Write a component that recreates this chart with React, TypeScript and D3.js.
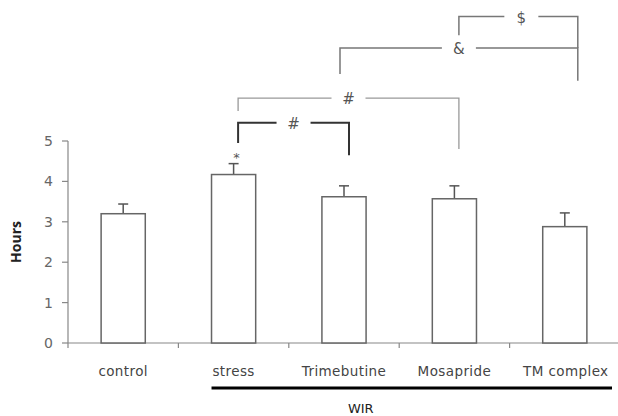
import React from "react";
import * as d3 from "d3";

const categories = ["control", "stress", "Trimebutine", "Mosapride", "TM complex"];
const means = [3.2, 4.17, 3.62, 3.57, 2.88];
const errors = [0.24, 0.27, 0.27, 0.32, 0.34];
const yTicks = [0, 1, 2, 3, 4, 5];
const starLabels = ["", "*", "", "", ""];
// brackets: from/to category index, top level, left & right drop ends (data units)
const bracketFrom = [1, 1, 2, 3];
const bracketTo = [2, 3, 4, 4];
const bracketTop = [5.45, 6.06, 7.3, 8.08];
const bracketLeftEnd = [4.95, 5.74, 6.66, 7.62];
const bracketRightEnd = [4.65, 4.8, 6.49, 7.3];
const bracketLabels = ["#", "#", "&", "$"];
const groupLabel = "WIR";

const W = 618, H = 416;
const margin = { left: 68, right: -2, top: 0, bottom: 73 };

export default function App() {
  const x = d3.scaleBand<string>().domain(categories)
    .range([margin.left, W - margin.right]).paddingInner(0.6).paddingOuter(0.3);
  const y = d3.scaleLinear().domain([0, 5]).range([343, 141]);
  const step = x.step();
  const x0 = margin.left;
  const x1 = margin.left + step * categories.length;
  const cx = (i: number) => (x(categories[i]) as number) + x.bandwidth() / 2;
  const offL = [0, 4.5, -4, 4.5, 13];
  const offR = [0, 4.5, 5, 4.5, 13];
  const font = "'DejaVu Sans', 'Open Sans', sans-serif";
  const bracketStroke = ["#333", "#999", "#777", "#777"];
  const bracketWidth = [2, 1.3, 1.5, 1.5];

  return (
    <svg width={W} height={H} style={{ position: "absolute", left: 0, top: 0, background: "#fff" }}
      fontFamily={font}>
      {/* y axis */}
      <line x1={x0} x2={x0} y1={y(0)} y2={y(5)} stroke="#888" strokeWidth={1.2} />
      {yTicks.map(t => (
        <g key={t}>
          <line x1={x0 - 6} x2={x0} y1={y(t)} y2={y(t)} stroke="#888" strokeWidth={1.2} />
          <text x={53} y={y(t)} dy="0.35em" textAnchor="end" fontSize={14} fill="#666">{t}</text>
        </g>
      ))}
      <text transform={`translate(21,${(y(0) + y(5)) / 2}) rotate(-90)`} textAnchor="middle"
        fontSize={14} fontWeight="bold" fill="#222" fontFamily="'Open Sans', sans-serif">Hours</text>
      {/* x axis */}
      <line x1={x0} x2={x1} y1={y(0)} y2={y(0)} stroke="#888" strokeWidth={1.2} />
      {d3.range(categories.length + 1).map(i => (
        <line key={i} x1={x0 + i * step} x2={x0 + i * step} y1={y(0)} y2={y(0) + 5} stroke="#888" strokeWidth={1.2} />
      ))}
      {/* bars */}
      {categories.map((c, i) => (
        <g key={c}>
          <line x1={cx(i)} x2={cx(i)} y1={y(means[i])} y2={y(means[i] + errors[i])} stroke="#555" strokeWidth={1.5} />
          <line x1={cx(i) - 5} x2={cx(i) + 5} y1={y(means[i] + errors[i])} y2={y(means[i] + errors[i])} stroke="#555" strokeWidth={1.5} />
          <rect x={x(c)} y={y(means[i])} width={x.bandwidth()} height={y(0) - y(means[i])}
            fill="#fff" stroke="#666" strokeWidth={1.5} />
          <text x={cx(i) + (i === 4 ? 1 : 0)} y={371} dy="0.35em" textAnchor="middle" fontSize={13.5} letterSpacing={0.4} fill="#444">{c}</text>
          {starLabels[i] && (
            <text x={cx(i) + 3} y={y(means[i] + errors[i]) - 2} textAnchor="middle" fontSize={13} fill="#555">{starLabels[i]}</text>
          )}
        </g>
      ))}
      {/* WIR group line */}
      <line x1={x(categories[1]) as number} x2={x1 - 8} y1={388} y2={388} stroke="#000" strokeWidth={3} />
      <text x={(x(categories[1]) as number + x1) / 2 - 55} y={408} dy="0.35em" textAnchor="middle" fontSize={13} fill="#222">{groupLabel}</text>
      {/* brackets */}
      {bracketLabels.map((lab, k) => {
        const xl = cx(bracketFrom[k]) + (k === 2 ? offL[bracketFrom[k]] : offR[bracketFrom[k]]);
        const xr = cx(bracketTo[k]) + offR[bracketTo[k]];
        const yt = y(bracketTop[k]);
        const mid = (xl + xr) / 2 + (k === 3 ? 3 : 0);
        const gap = 17;
        return (
          <g key={k} stroke={bracketStroke[k]} strokeWidth={bracketWidth[k]} fill="none">
            <path d={`M${xl},${y(bracketLeftEnd[k])}V${yt}H${mid - gap}`} />
            <path d={`M${mid + gap},${yt}H${xr}V${y(bracketRightEnd[k])}`} />
            <text x={mid} y={yt + 1} dy="0.35em" textAnchor="middle" fontSize={15} fill="#555" stroke="none">{lab}</text>
          </g>
        );
      })}
    </svg>
  );
}
